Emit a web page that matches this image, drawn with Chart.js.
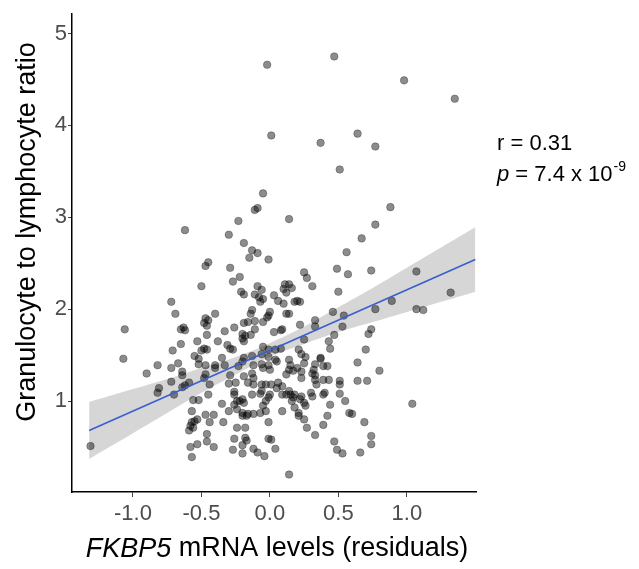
<!DOCTYPE html>
<html lang="en">

<head>
    <meta charset="UTF-8" />
    <title>FKBP5 vs granulocyte to lymphocyte ratio</title>
    <script src="https://cdn.jsdelivr.net/npm/chart.js"></script>
    <style>
        body {
            margin: 0;
            background-color: #ffffff;
        }
    </style>
</head>

<body>
    <canvas id="scatterChart" width="639" height="569"></canvas>

    <script>
        // FKBP5 residuals (x) and granulocyte/lymphocyte ratio (y), one entry per subject
        const xVals = [
            -0.02, 0.01, -0.05, -0.11, -0.09, -0.23, -0.62, -0.30, -0.19, 0.47,
            0.98, 1.35, 0.64, 0.37, 0.77, 0.51, 0.88, 0.14, 0.77, 0.67,
            -0.72, -0.69, -1.06, -0.65, -0.65, -0.71, -1.07, -0.13, -0.09, -0.15,
            -0.01, -0.45, -0.47, -0.29, -0.22, -0.27, -0.50, -0.09, -0.06, -0.11,
            -0.08, -0.05, -0.07, -0.21, -0.19, -0.13, -0.14, -0.40, -0.47, -0.45,
            -0.48, -0.19, -0.16, -0.11, -0.63, -0.62, -0.46, -0.33, -0.26, -0.11,
            -0.20, -0.18, -0.20, -0.19, -0.14, -0.53, -0.46, -0.38, -0.31, -0.29,
            -0.27, -0.48, -0.50, -0.46, -0.55, -0.52, -0.35, -0.19, -0.13, -0.06,
            -0.01, 0.56, 0.49, 0.57, 0.25, 0.27, 0.31, 0.11, 0.14, 0.10,
            0.12, 0.16, 0.50, 0.03, 0.06, 0.10, 0.20, 0.22, 0.18, 0.00,
            -0.02, -0.05, -0.01, 0.12, 0.14, 0.46, 0.54, 0.33, 0.33, 0.22,
            0.53, 0.08, 0.09, 0.03, 0.25, 0.47, -0.05, -0.01, 0.04, 0.08,
            0.43, 0.44, 0.21, 0.23, 0.26, 0.37, 0.04, 0.14, 0.74, 1.07,
            1.32, 0.89, 0.77, 1.07, 1.12, 0.74, 0.72, 0.70, 0.64, 0.80,
            0.64, 0.71, 1.04, 0.60, 0.69, 0.74, 0.74, 0.66, -0.67, -0.64,
            -0.72, -0.82, -0.90, -0.72, -0.81, -0.82, -0.70, -0.64, -1.31, -0.52,
            -0.47, -0.40, -0.33, -0.40, -0.23, -0.20, -0.12, -0.06, -0.01, -0.64,
            -0.47, -0.48, -0.29, -0.19, -0.13, -0.12, -0.59, -0.62, -0.44, -0.30,
            -0.25, -0.16, -0.12, -0.06, 0.01, -0.45, -0.26, -0.26, -0.20, -0.22,
            -0.19, -0.24, -0.13, -0.07, -0.06, -0.56, -0.52, -0.35, -0.26, -0.03,
            -0.01, -0.05, -0.57, -0.30, -0.24, -0.47, -0.41, -0.20, -0.16, -0.12,
            -0.07, -0.20, -0.17, -0.55, -0.57, -0.58, -0.56, -0.59, -0.53, -0.44,
            -0.34, -0.01, -0.24, -0.18, -0.46, -0.26, -0.18, -0.17, -0.01, -0.46,
            -0.41, -0.53, -0.58, -0.20, -0.27, -0.20, -0.12, -0.09, -0.04, -0.57,
            0.05, 0.00, -0.05, 0.25, 0.20, 0.23, 0.15, 0.14, 0.12, 0.17,
            0.37, 0.33, 0.39, 0.42, 0.32, 0.33, 0.31, 0.23, 0.33, 0.39,
            0.43, 0.34, 0.51, 0.51, 0.06, 0.09, 0.05, -0.03, 0.14, 0.15,
            0.12, 0.09, 0.18, 0.23, 0.22, 0.25, 0.26, 0.16, 0.17, 0.30,
            0.31, 0.40, 0.39, 0.51, 0.55, -0.03, 0.00, 0.44, 0.09, 0.18,
            0.21, 0.21, 0.42, 0.58, 0.25, 0.27, 0.39, 0.33, 0.01, 0.04,
            0.47, 0.49, 0.53, 0.14
        ];
        const yVals = [
            4.66, 3.89, 3.26, 3.08, 3.10, 2.96, 2.86, 2.81, 2.72, 4.75,
            4.49, 4.29, 3.91, 3.81, 3.77, 3.52, 3.11, 2.98, 2.92, 2.77,
            2.08, 1.95, 1.78, 1.78, 1.62, 1.55, 1.46, 2.64, 2.61, 2.56,
            2.54, 2.51, 2.47, 2.45, 2.35, 2.30, 2.25, 2.25, 2.21, 2.16,
            2.13, 2.11, 2.08, 2.19, 2.16, 1.99, 1.95, 1.95, 1.90, 1.88,
            1.85, 1.85, 1.86, 1.87, 1.80, 1.77, 1.82, 1.76, 1.80, 1.78,
            1.73, 1.71, 1.68, 1.65, 1.72, 1.65, 1.72, 1.65, 1.61, 1.57,
            1.56, 1.57, 1.55, 1.56, 1.49, 1.46, 1.47, 1.47, 1.49, 1.51,
            1.48, 2.62, 2.44, 2.38, 2.40, 2.34, 2.25, 2.27, 2.27, 2.22,
            2.18, 2.23, 2.19, 2.15, 2.09, 2.06, 2.09, 2.08, 2.08, 1.97,
            1.91, 1.86, 1.93, 1.95, 1.95, 1.97, 1.93, 1.88, 1.81, 1.83,
            1.81, 1.77, 1.78, 1.75, 1.67, 1.72, 1.59, 1.56, 1.56, 1.57,
            1.65, 1.57, 1.56, 1.51, 1.48, 1.47, 1.45, 1.45, 2.42, 2.41,
            2.18, 2.09, 2.00, 2.00, 1.99, 1.78, 1.73, 1.56, 1.42, 1.33,
            1.22, 1.22, 0.97, 0.86, 0.77, 0.62, 0.53, 0.44, 1.41, 1.32,
            1.36, 1.39, 1.30, 1.21, 1.14, 1.09, 1.07, 1.15, 0.51, 1.40,
            1.39, 1.39, 1.39, 1.36, 1.38, 1.43, 1.39, 1.40, 1.39, 1.28,
            1.29, 1.25, 1.28, 1.27, 1.30, 1.25, 1.20, 1.17, 1.18, 1.19,
            1.20, 1.20, 1.18, 1.18, 1.18, 1.07, 1.10, 1.07, 1.02, 1.00,
            0.98, 1.00, 1.07, 1.08, 1.11, 1.01, 1.01, 0.97, 0.96, 1.00,
            1.04, 0.95, 0.89, 0.89, 0.91, 0.85, 0.85, 0.87, 0.86, 0.86,
            0.87, 0.84, 0.84, 0.78, 0.77, 0.73, 0.71, 0.68, 0.80, 0.77,
            0.77, 0.77, 0.71, 0.71, 0.64, 0.59, 0.60, 0.57, 0.59, 0.56,
            0.50, 0.53, 0.50, 0.52, 0.47, 0.43, 0.48, 0.44, 0.40, 0.39,
            1.43, 1.34, 1.36, 1.41, 1.36, 1.32, 1.39, 1.34, 1.29, 1.33,
            1.46, 1.40, 1.38, 1.38, 1.34, 1.28, 1.30, 1.25, 1.23, 1.23,
            1.23, 1.18, 1.22, 1.18, 1.20, 1.16, 1.14, 1.18, 1.11, 1.07,
            1.07, 1.07, 1.07, 1.05, 1.02, 0.98, 0.95, 1.00, 1.04, 1.09,
            1.05, 1.09, 1.07, 1.08, 1.00, 0.89, 1.07, 0.96, 0.89, 0.93,
            0.87, 0.84, 0.84, 0.87, 0.80, 0.71, 0.74, 0.63, 0.58, 0.48,
            0.56, 0.47, 0.43, 0.20
        ];

        // linear fit and its 95% band
        const fitX = [-1.32, 1.50];
        const fitY = [0.68, 2.54];
        const bandX = [-1.32, -1.0, -0.75, -0.5, -0.25, 0, 0.25, 0.5, 0.75, 1.0, 1.25, 1.50];
        const bandLow = [0.37, 0.65, 0.87, 1.09, 1.29, 1.48, 1.62, 1.75, 1.86, 1.97, 2.08, 2.19];
        const bandHigh = [0.99, 1.13, 1.24, 1.36, 1.48, 1.63, 1.81, 2.02, 2.23, 2.45, 2.67, 2.89];

        const xTicks = [-1.0, -0.5, 0, 0.5, 1.0];
        const yTicks = [1, 2, 3, 4, 5];

        const xTitleItalic = 'FKBP5';
        const xTitleRest = ' mRNA levels (residuals)';
        const yTitle = 'Granulocyte to lymphocyte ratio';
        const statR = 'r = 0.31';
        const statP = ' = 7.4 x 10';
        const statPExp = '-9';

        const FONT = 'Arial, "Liberation Sans", sans-serif';

        // titles with mixed italic + the r / p annotation
        const textPlugin = {
            id: 'textPlugin',
            afterDraw(chart) {
                const ctx = chart.ctx;
                ctx.save();
                ctx.fillStyle = '#000000';

                // y title
                ctx.font = '27px ' + FONT;
                ctx.textAlign = 'center';
                ctx.textBaseline = 'middle';
                ctx.translate(28, 232);
                ctx.rotate(-Math.PI / 2);
                ctx.fillText(yTitle, 0, 0);
                ctx.restore();

                // x title
                ctx.save();
                ctx.fillStyle = '#000000';
                ctx.textBaseline = 'middle';
                ctx.textAlign = 'left';
                ctx.font = 'italic 27px ' + FONT;
                const w1 = ctx.measureText(xTitleItalic).width;
                ctx.font = '27px ' + FONT;
                const w2 = ctx.measureText(xTitleRest).width;
                let x0 = 277 - (w1 + w2) / 2;
                ctx.font = 'italic 27px ' + FONT;
                ctx.fillText(xTitleItalic, x0, 549);
                ctx.font = '27px ' + FONT;
                ctx.fillText(xTitleRest, x0 + w1, 549);

                // stats
                ctx.textBaseline = 'alphabetic';
                ctx.font = '22px ' + FONT;
                ctx.fillText(statR, 497, 150);
                ctx.font = 'italic 22px ' + FONT;
                ctx.fillText('p', 497, 181);
                const wp = ctx.measureText('p').width;
                ctx.font = '22px ' + FONT;
                ctx.fillText(statP, 497 + wp, 181);
                const ws = ctx.measureText(statP).width;
                ctx.font = '14px ' + FONT;
                ctx.fillText(statPExp, 497 + wp + ws + 1, 171);
                ctx.restore();
            }
        };

        const points = xVals.map((x, i) => ({ x: x, y: yVals[i] }));
        const lowData = bandX.map((x, i) => ({ x: x, y: bandLow[i] }));
        const highData = bandX.map((x, i) => ({ x: x, y: bandHigh[i] }));
        const fitData = fitX.map((x, i) => ({ x: x, y: fitY[i] }));

        const ctx = document.getElementById('scatterChart').getContext('2d');
        const chart = new Chart(ctx, {
            type: 'scatter',
            data: {
                datasets: [
                    {
                        data: lowData,
                        showLine: true,
                        borderWidth: 0,
                        borderColor: 'rgba(0,0,0,0)',
                        pointRadius: 0,
                        fill: false,
                        tension: 0.4,
                        order: 4
                    },
                    {
                        data: highData,
                        showLine: true,
                        borderWidth: 0,
                        borderColor: 'rgba(0,0,0,0)',
                        backgroundColor: '#d6d6d6',
                        pointRadius: 0,
                        fill: '-1',
                        tension: 0.4,
                        order: 3
                    },
                    {
                        data: points,
                        pointRadius: 3.8,
                        pointBackgroundColor: 'rgba(0,0,0,0.45)',
                        pointBorderColor: 'rgba(0,0,0,0.35)',
                        pointBorderWidth: 0.8,
                        order: 2
                    },
                    {
                        data: fitData,
                        showLine: true,
                        borderColor: '#3a5fcd',
                        borderWidth: 1.6,
                        pointRadius: 0,
                        fill: false,
                        order: 1
                    }
                ]
            },
            options: {
                responsive: false,
                animation: false,
                layout: {
                    padding: { left: 0, right: 163, top: 8, bottom: 0 }
                },
                plugins: {
                    legend: { display: false },
                    tooltip: { enabled: false }
                },
                scales: {
                    x: {
                        type: 'linear',
                        min: -1.445,
                        max: 1.505,
                        afterBuildTicks: (s) => { s.ticks = xTicks.map(v => ({ value: v })); },
                        afterFit: (s) => { s.height = 77; },
                        ticks: {
                            callback: (v) => v.toFixed(1),
                            color: '#4d4d4d',
                            font: { family: FONT, size: 22 },
                            padding: 4,
                            maxRotation: 0,
                            autoSkip: false
                        },
                        grid: {
                            display: true,
                            drawOnChartArea: false,
                            tickLength: 5,
                            color: '#444444',
                            lineWidth: 1
                        },
                        border: { display: true, color: '#000000', width: 1.5 }
                    },
                    y: {
                        type: 'linear',
                        min: 0.01,
                        max: 5.21,
                        afterBuildTicks: (s) => { s.ticks = yTicks.map(v => ({ value: v })); },
                        afterFit: (s) => { s.width = 72; },
                        ticks: {
                            callback: (v) => String(v),
                            color: '#4d4d4d',
                            font: { family: FONT, size: 22 },
                            padding: 1
                        },
                        grid: {
                            display: true,
                            drawOnChartArea: false,
                            tickLength: 4,
                            color: '#444444',
                            lineWidth: 1
                        },
                        border: { display: true, color: '#000000', width: 1.5 }
                    }
                }
            },
            plugins: [textPlugin]
        });
    </script>
</body>

</html>
